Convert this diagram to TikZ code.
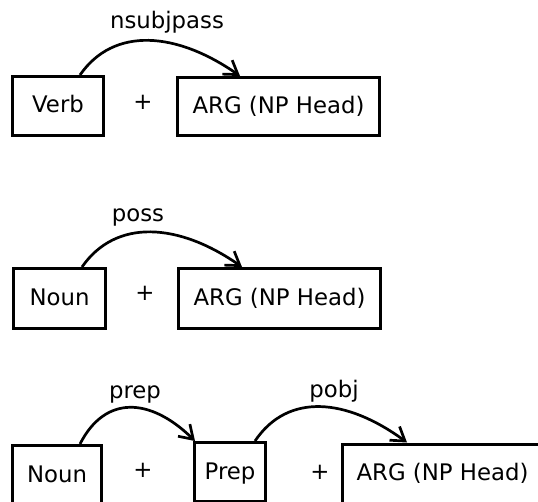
\documentclass[tikz,border=0pt]{standalone}
\usepackage{fontspec}
\setmainfont{DejaVu Sans}
\usetikzlibrary{arrows.meta}
\tikzset{
  wordbox/.style={draw, line width=3pt, inner sep=0pt, text height=14pt, text depth=0pt,
    font=\fontsize{22.8}{26}\selectfont},
  plussign/.style={inner sep=0pt, font=\fontsize{22.8}{26}\selectfont},
  deplabel/.style={inner sep=0pt, anchor=base, font=\fontsize{22.8}{26}\selectfont},
  deparc/.style={line width=2.7pt, -{Straight Barb[length=13pt,width=17pt,line width=2.7pt]}}
}
\begin{document}
\begin{tikzpicture}[x=1pt,y=-1pt]
\useasboundingbox (0,0) rectangle (538,502);
\clip (0,0) rectangle (538,502);
\fill[white] (0,0) rectangle (538,502);
% Row 1
\node[wordbox, minimum width=91pt, minimum height=59pt] (verb) at (58,106) {Verb};
\node[plussign] (plus1) at (143,102) {+};
\node[wordbox, minimum width=202pt, minimum height=58pt] (arg1) at (278.5,106.5) {ARG (NP Head)};
\node[deplabel] (lab1) at (167,29) {nsubjpass};
\draw[deparc] ([xshift=22pt]verb.north) .. controls +(34,-49) and +(-63,-44) .. ([xshift=-38.5pt]arg1.north);
% Row 2
\node[wordbox, minimum width=92pt, minimum height=60pt] (noun2) at (59.5,298.5) {Noun};
\node[plussign] (plus2) at (145,293) {+};
\node[wordbox, minimum width=202pt, minimum height=60pt] (arg2) at (279.5,298.5) {ARG (NP Head)};
\node[deplabel] (lab2) at (138,222) {poss};
\draw[deparc] ([xshift=22.5pt]noun2.north) .. controls +(34,-49) and +(-63,-44) .. ([xshift=-37.5pt]arg2.north);
% Row 3
\node[wordbox, minimum width=89pt, minimum height=59pt] (noun3) at (57,475) {Noun};
\node[plussign] (plus3) at (143,470) {+};
\node[wordbox, minimum width=71pt, minimum height=59pt] (prep) at (230,472) {Prep};
\node[plussign] (plus4) at (320,472) {+};
\node[wordbox, minimum width=200pt, minimum height=59pt] (arg3) at (442.5,473.5) {ARG (NP Head)};
\node[deplabel] (lab3) at (135,399) {prep};
\node[deplabel] (lab4) at (334,398) {pobj};
\draw[deparc] ([xshift=23pt]noun3.north) .. controls +(25,-49) and +(-45,-44) .. ([xshift=-35pt]prep.north);
\draw[deparc] ([xshift=25pt]prep.north) .. controls +(33,-49) and +(-60,-44) .. ([xshift=-35.5pt]arg3.north);
\end{tikzpicture}
\end{document}
